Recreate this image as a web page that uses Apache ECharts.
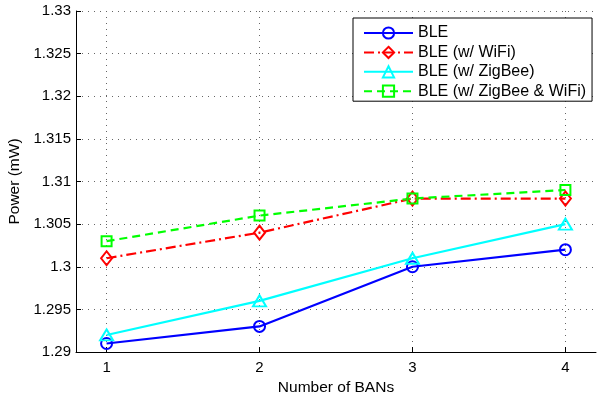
<!DOCTYPE html>
<html>
<head>
<meta charset="utf-8">
<script src="https://cdn.jsdelivr.net/npm/echarts@6/dist/echarts.min.js"></script>
<style>
html,body{margin:0;padding:0;background:#fff;}
#c{width:597px;height:396px;}
</style>
</head>
<body>
<div id="c"></div>
<script>
const xValues = [1, 2, 3, 4];
const seriesNames = ['BLE', 'BLE (w/ WiFi)', 'BLE (w/ ZigBee)', 'BLE (w/ ZigBee & WiFi)'];
const bleValues = [1.291, 1.293, 1.300, 1.302];
const bleWifiValues = [1.301, 1.304, 1.308, 1.308];
const bleZigbeeValues = [1.292, 1.296, 1.301, 1.305];
const bleZigbeeWifiValues = [1.303, 1.306, 1.308, 1.309];
const yTicks = [1.29, 1.295, 1.3, 1.305, 1.31, 1.315, 1.32, 1.325, 1.33];

const FONT = '"Liberation Sans", Arial, Helvetica, sans-serif';
const gridLine = { show: true, lineStyle: { color: '#666', width: 1, type: [1, 5] } };

function mk(name, vals, color, symbol, size, dash) {
  return {
    name: name,
    type: 'line',
    data: xValues.map((x, i) => [x, vals[i]]),
    symbol: symbol,
    symbolSize: size,
    showSymbol: true,
    lineStyle: { color: color, width: 2.2, type: dash },
    itemStyle: { color: 'rgba(255,255,255,0)', borderColor: color, borderWidth: 2 },
    emphasis: { disabled: true },
    animation: false
  };
}

const chart = echarts.init(document.getElementById('c'), null, { renderer: 'canvas' });
chart.setOption({
  backgroundColor: '#fff',
  animation: false,
  textStyle: { fontFamily: FONT },
  grid: { left: 76, right: 1, top: 11, bottom: 44, containLabel: false, outerBoundsMode: 'none' },
  legend: {
    data: seriesNames,
    orient: 'vertical',
    left: 353,
    top: 18,
    width: 236,
    padding: [7, 6, 2, 10],
    itemWidth: 49,
    itemHeight: 14,
    itemGap: 3.4,
    backgroundColor: '#fff',
    borderColor: '#000',
    borderWidth: 1,
    borderRadius: 0,
    textStyle: { fontFamily: FONT, fontSize: 16, color: '#000', lineHeight: 16 }
  },
  xAxis: {
    type: 'value',
    min: 0.8,
    max: 4.2,
    name: 'Number of BANs',
    nameLocation: 'middle',
    nameGap: 27,
    nameTextStyle: { fontFamily: FONT, fontSize: 15.5, color: '#000' },
    axisLine: { show: true, onZero: false, lineStyle: { color: '#000', width: 1 } },
    axisTick: { show: true, inside: true, length: 5, customValues: xValues, lineStyle: { color: '#000' } },
    axisLabel: { customValues: xValues, fontFamily: FONT, fontSize: 15, color: '#000', margin: 8, formatter: v => String(v) },
    splitLine: gridLine
  },
  yAxis: {
    type: 'value',
    min: 1.29,
    max: 1.33,
    interval: 0.005,
    name: 'Power (mW)',
    nameLocation: 'middle',
    nameGap: 52,
    nameTextStyle: { fontFamily: FONT, fontSize: 15.5, color: '#000' },
    axisLine: { show: true, onZero: false, lineStyle: { color: '#000', width: 1 } },
    axisTick: { show: true, inside: true, length: 5, lineStyle: { color: '#000' } },
    axisLabel: { fontFamily: FONT, fontSize: 15, color: '#000', margin: 5,
      formatter: v => String(parseFloat(Number(v).toFixed(3))) },
    splitLine: gridLine
  },
  series: [
    mk(seriesNames[0], bleValues, '#0000ff', 'circle', 11, 'solid'),
    mk(seriesNames[1], bleWifiValues, '#ff0000', 'diamond', [11, 14], [10, 4, 2, 4]),
    mk(seriesNames[2], bleZigbeeValues, '#00ffff', 'triangle', [13, 11], 'solid'),
    mk(seriesNames[3], bleZigbeeWifiValues, '#00ff00', 'rect', 10, [8, 5])
  ]
});
</script>
</body>
</html>
